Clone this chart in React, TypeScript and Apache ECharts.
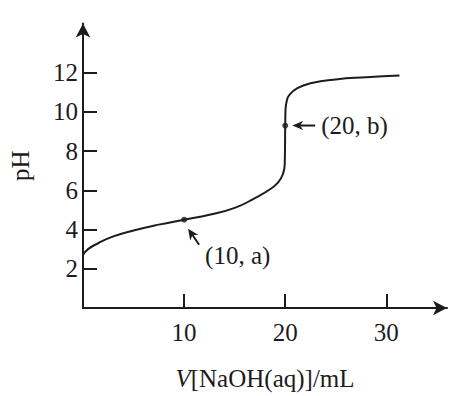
import React, { useEffect, useRef } from "react";
import * as echarts from "echarts";

// NaOH volume (mL) and pH along the titration curve
const volumes = [0, 0.5, 1.5, 3, 5, 7.5, 10, 12.5, 15, 17, 18.5, 19.3, 19.75, 19.95, 20, 20.03, 20.15, 20.4, 21.2, 22.5, 25, 28, 31.3];
const phValues = [2.7, 3.0, 3.3, 3.65, 3.95, 4.25, 4.5, 4.75, 5.1, 5.6, 6.05, 6.4, 6.8, 7.3, 9.3, 10.1, 10.55, 10.85, 11.2, 11.45, 11.65, 11.76, 11.85];

// marked points
const markedX = [10, 20];
const markedY = [4.5, 9.3];
const markedLabels = ["(10, a)", "(20, b)"];

// axis ticks
const xTicks = [10, 20, 30];
const yTicks = [2, 4, 6, 8, 10, 12];

const FONT = "'Liberation Serif', 'DejaVu Serif', serif";
const INK = "#1c1c1c";

function arrow(tip: number[], tail: number[], headLen: number, headHalf: number) {
  const dx = tail[0] - tip[0];
  const dy = tail[1] - tip[1];
  const len = Math.hypot(dx, dy);
  const ux = dx / len;
  const uy = dy / len;
  const nx = -uy;
  const ny = ux;
  const base = [tip[0] + ux * headLen, tip[1] + uy * headLen];
  const notch = [tip[0] + ux * headLen * 0.7, tip[1] + uy * headLen * 0.7];
  return [
    {
      type: "line",
      shape: { x1: notch[0], y1: notch[1], x2: tail[0], y2: tail[1] },
      style: { stroke: INK, lineWidth: 2 },
    },
    {
      type: "polygon",
      shape: {
        points: [
          tip,
          [base[0] + nx * headHalf, base[1] + ny * headHalf],
          notch,
          [base[0] - nx * headHalf, base[1] - ny * headHalf],
        ],
      },
      style: { fill: INK },
    },
  ];
}

export default function App() {
  const ref = useRef<HTMLDivElement>(null);
  useEffect(() => {
    if (!ref.current) return;
    const chart = echarts.init(ref.current, undefined, { renderer: "svg" });
    chart.setOption({
      animation: false,
      backgroundColor: "#ffffff",
      grid: { left: 76, right: 6, top: 23.5, bottom: 85 },
      xAxis: {
        type: "value",
        min: 0,
        max: 36,
        name: "{i|V}[NaOH(aq)]/mL",
        nameLocation: "middle",
        nameGap: 58,
        nameTextStyle: {
          fontFamily: FONT,
          fontSize: 25,
          color: INK,
          rich: { i: { fontFamily: FONT, fontSize: 25, fontStyle: "italic", color: INK } },
        },
        axisLine: {
          show: true,
          symbol: ["none", "arrow"],
          symbolSize: [11, 14],
          lineStyle: { color: INK, width: 2 },
        },
        axisTick: { show: true, inside: true, length: 14, customValues: xTicks, lineStyle: { color: INK, width: 2 } },
        axisLabel: { customValues: xTicks, margin: 12, fontFamily: FONT, fontSize: 25, color: INK },
        splitLine: { show: false },
      },
      yAxis: {
        type: "value",
        min: 0,
        max: 14.5,
        name: "pH",
        nameLocation: "middle",
        nameRotate: 90,
        nameGap: 50,
        nameTextStyle: { fontFamily: FONT, fontSize: 25, color: INK },
        axisLine: {
          show: true,
          symbol: ["none", "arrow"],
          symbolSize: [11, 14],
          lineStyle: { color: INK, width: 2 },
        },
        axisTick: { show: true, inside: true, length: 14, customValues: yTicks, lineStyle: { color: INK, width: 2 } },
        axisLabel: { customValues: yTicks, margin: 5, fontFamily: FONT, fontSize: 25, color: INK },
        splitLine: { show: false },
      },
      series: [
        {
          type: "line",
          data: volumes.map((v, i) => [v, phValues[i]]),
          smooth: 0.5,
          showSymbol: false,
          lineStyle: { color: INK, width: 2 },
        },
        {
          type: "scatter",
          data: markedX.map((v, i) => [v, markedY[i]]),
          symbolSize: 6,
          itemStyle: { color: INK },
        },
      ],
    });

    const pa = chart.convertToPixel({ gridIndex: 0 }, [markedX[0], markedY[0]]) as number[];
    const pb = chart.convertToPixel({ gridIndex: 0 }, [markedX[1], markedY[1]]) as number[];
    chart.setOption({
      graphic: [
        ...arrow([pa[0] + 4, pa[1] + 9], [pa[0] + 15, pa[1] + 25], 11, 5),
        ...arrow([pb[0] + 7, pb[1]], [pb[0] + 30, pb[1]], 11, 4.5),
        {
          type: "text",
          x: pa[0] + 21,
          y: pa[1] + 36,
          style: { text: markedLabels[0], font: `25px ${FONT}`, fill: INK, verticalAlign: "middle", align: "left" },
        },
        {
          type: "text",
          x: pb[0] + 36,
          y: pb[1],
          style: { text: markedLabels[1], font: `25px ${FONT}`, fill: INK, verticalAlign: "middle", align: "left" },
        },
      ],
    });
    return () => chart.dispose();
  }, []);
  return <div ref={ref} style={{ position: "fixed", left: 0, top: 0, width: 453, height: 396 }} />;
}
